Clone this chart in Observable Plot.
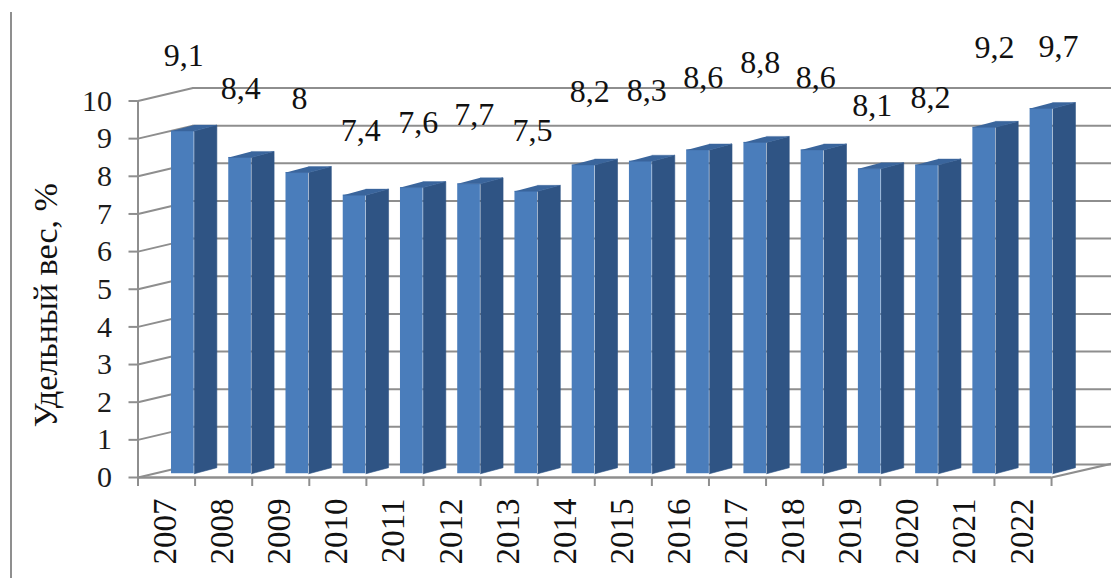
<!DOCTYPE html>
<html lang="ru">
<head>
<meta charset="utf-8">
<script src="https://cdn.jsdelivr.net/npm/d3@7"></script>
<script src="https://cdn.jsdelivr.net/npm/@observablehq/plot@0.6"></script>
<style>
  html, body { margin: 0; padding: 0; background: #fff; }
  #wrap { position: relative; width: 1111px; height: 578px; overflow: hidden; }
  #edge { position: absolute; left: 9.5px; top: 12px; bottom: 0; width: 2.5px; background: #8f8f8f; }
  svg { display: block; }
</style>
</head>
<body>
<div id="wrap"><div id="edge"></div><div id="chart"></div></div>
<script>
const years = [2007,2008,2009,2010,2011,2012,2013,2014,2015,2016,2017,2018,2019,2020,2021,2022];
const values = [9.1,8.4,8,7.4,7.6,7.7,7.5,8.2,8.3,8.6,8.8,8.6,8.1,8.2,9.2,9.7];
const yTicks = [0,1,2,3,4,5,6,7,8,9,10];
const yTitle = "Удельный вес, %";

// Hand placement of the value labels in the original, in axis units
const labelShift = [.30,.30,.33,.40,.41,.39,.41,.41,.41,.40,.40,.37,.36,.38,.50,.62];
const labelLift = [2.11,1.93,2.07,1.82,1.83,1.94,1.72,2.05,1.98,2.02,2.22,2.02,1.78,1.89,2.22,1.75];

// Oblique 3D projection, in axis units
const wallDx = 0.963, wallDy = 0.345;
const barLeft = 0.087, barRight = 0.484, barDx = 0.397, barDy = 0.16, barBase = 0.1, barDrift = 0.0025;
const xStart = years[0] - 0.5, xEnd = years[years.length - 1] + 0.5, xMax = xEnd + 1.05;

const rows = years.map((year, i) => ({year, value: values[i], i, pos: year + i * barDrift}));
const boundaries = [...years.map(y => y - 0.5), xEnd];

const sides = rows.flatMap(({pos, value, i}) => [
  {id: i, x: pos + barRight, y: barBase},
  {id: i, x: pos + barRight + barDx, y: barBase + barDy},
  {id: i, x: pos + barRight + barDx, y: value + barBase + barDy},
  {id: i, x: pos + barRight, y: value + barBase}
]);
const tops = rows.flatMap(({pos, value, i}) => [
  {id: i, x: pos + barLeft, y: value + barBase},
  {id: i, x: pos + barRight, y: value + barBase},
  {id: i, x: pos + barRight + barDx, y: value + barBase + barDy},
  {id: i, x: pos + barLeft + barDx, y: value + barBase + barDy}
]);
const diagonals = [
  ...yTicks.flatMap(t => [
    {id: t, x: xStart, y: t},
    {id: t, x: xStart + wallDx, y: t + wallDy}
  ]),
  {id: "end", x: xEnd, y: 0},
  {id: "end", x: xMax, y: 0.365}
];

const gridColor = "#8e8e8e";
const serif = "'Liberation Serif', 'Times New Roman', serif";

const chart = Plot.plot({
  width: 1111,
  height: 578,
  marginLeft: 137.5,
  marginRight: 0,
  marginTop: 100.5,
  marginBottom: 101,
  x: {domain: [xStart, xMax], label: null},
  y: {domain: [0, 10], label: null},
  style: {background: "transparent", fontFamily: serif, overflow: "visible"},
  marks: [
    Plot.ruleY(yTicks, {x1: xStart + wallDx, x2: xMax, y: d => d + wallDy, stroke: gridColor, strokeWidth: 2}),
    Plot.line(diagonals, {x: "x", y: "y", z: "id", stroke: gridColor, strokeWidth: 2}),
    Plot.ruleX([xStart], {y1: 0, y2: 10, stroke: gridColor, strokeWidth: 2}),
    Plot.ruleY([0], {x1: xStart, x2: xEnd, stroke: gridColor, strokeWidth: 2.5}),
    Plot.axisY({ticks: yTicks, tickSize: 9, tickPadding: 17, stroke: gridColor, strokeWidth: 2, fontSize: 30, color: "#1c1c1c", label: null, tickFormat: d => String(d)}),
    Plot.axisX({ticks: boundaries, tickSize: 9, fill: "none", stroke: gridColor, strokeWidth: 2, label: null}),
    Plot.axisX({ticks: years, tickSize: 0, tickPadding: 21, tickRotate: -90, dx: -1, fontSize: 33, color: "#111", label: null, tickFormat: d => String(d)}),
    Plot.rect(rows, {x1: d => d.pos + barLeft, x2: d => d.pos + barRight, y1: barBase, y2: d => d.value + barBase, fill: "#4a7dbb", inset: 0}),
    Plot.line(sides, {x: "x", y: "y", z: "id", fill: "#2f5484", stroke: "#2f5484", strokeWidth: 0.6}),
    Plot.line(tops, {x: "x", y: "y", z: "id", fill: "#3a659c", stroke: "#3a659c", strokeWidth: 0.4}),
    Plot.text(rows, {x: d => d.year + labelShift[d.i], y: d => d.value + labelLift[d.i], text: d => String(d.value).replace(".", ","), fontSize: 32, fill: "#111", lineAnchor: "middle", textAnchor: "middle"}),
    Plot.text([yTitle], {frameAnchor: "left", dx: -92, dy: 16, rotate: -90, fontSize: 34, fill: "#111", textAnchor: "middle"})
  ]
});
document.getElementById("chart").append(chart);
</script>
</body>
</html>
